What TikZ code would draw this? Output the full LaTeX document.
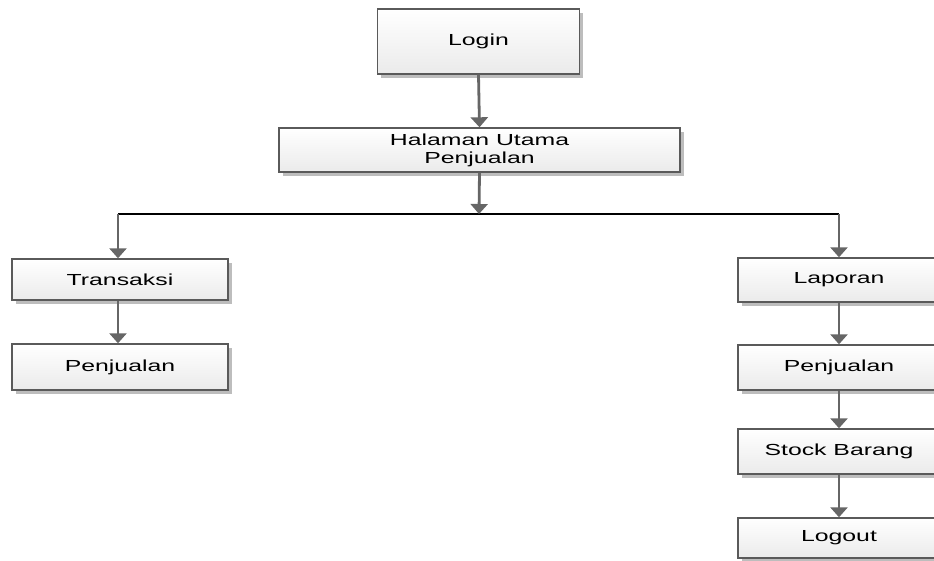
\documentclass[tikz,border=0pt]{standalone}
\usepackage{fontspec}
\newfontfamily\diafont[FakeStretch=1.55]{Liberation Sans}
\usetikzlibrary{arrows.meta,shadows}
\definecolor{boxline}{HTML}{5A5A5A}
\definecolor{arrowgray}{HTML}{666666}
\definecolor{shadowgray}{HTML}{BDBDBD}
\tikzset{
  box/.style={draw=boxline, line width=1.4pt, top color=white, bottom color=black!8,
    drop shadow={shadow xshift=3.5pt, shadow yshift=-3.5pt, fill=shadowgray, opacity=1},
    inner sep=0pt, font=\diafont\fontsize{16}{18}\selectfont, align=center, text=black},
  conn/.style={draw=arrowgray, line width=2.8pt, -{Triangle[width=17pt,length=10pt]}},
  bus/.style={draw=black, line width=2pt}
}
\begin{document}
\begin{tikzpicture}[x=1pt,y=-1pt]
\useasboundingbox (0,0) rectangle (934,560);
\node[box, minimum width=202pt, minimum height=65pt] (login) at (478.5,41.5) {Login};
\node[box, minimum width=401pt, minimum height=44pt] (home) at (479.5,150) {Halaman Utama\\Penjualan};
\node[box, minimum width=216pt, minimum height=41pt] (trans) at (120,279.5) {Transaksi};
\node[box, minimum width=216pt, minimum height=46pt] (penjL) at (120,367) {Penjualan};
\node[box, minimum width=202pt, minimum height=44pt] (lap) at (839,280) {Laporan};
\node[box, minimum width=202pt, minimum height=45pt] (penjR) at (839,367.5) {Penjualan};
\node[box, minimum width=202pt, minimum height=45pt] (stock) at (839,451.5) {Stock Barang};
\node[box, minimum width=202pt, minimum height=40pt] (logout) at (839,538) {Logout};
\coordinate (busL) at (118,214);
\coordinate (busR) at (839,214);
\coordinate (busM) at (479,214);
\draw[bus] (busL) -- (busR);
\draw[conn] (login.south) -- (home.north);
\draw[conn] (home.south) -- (busM);
\draw[conn] (busL) -- (busL |- trans.north);
\draw[conn] (busR) -- (busR |- lap.north);
\draw[conn] (trans.south -| busL) -- (penjL.north -| busL);
\draw[conn] (lap.south) -- (penjR.north);
\draw[conn] (penjR.south) -- (stock.north);
\draw[conn] (stock.south) -- (logout.north);
\end{tikzpicture}
\end{document}
